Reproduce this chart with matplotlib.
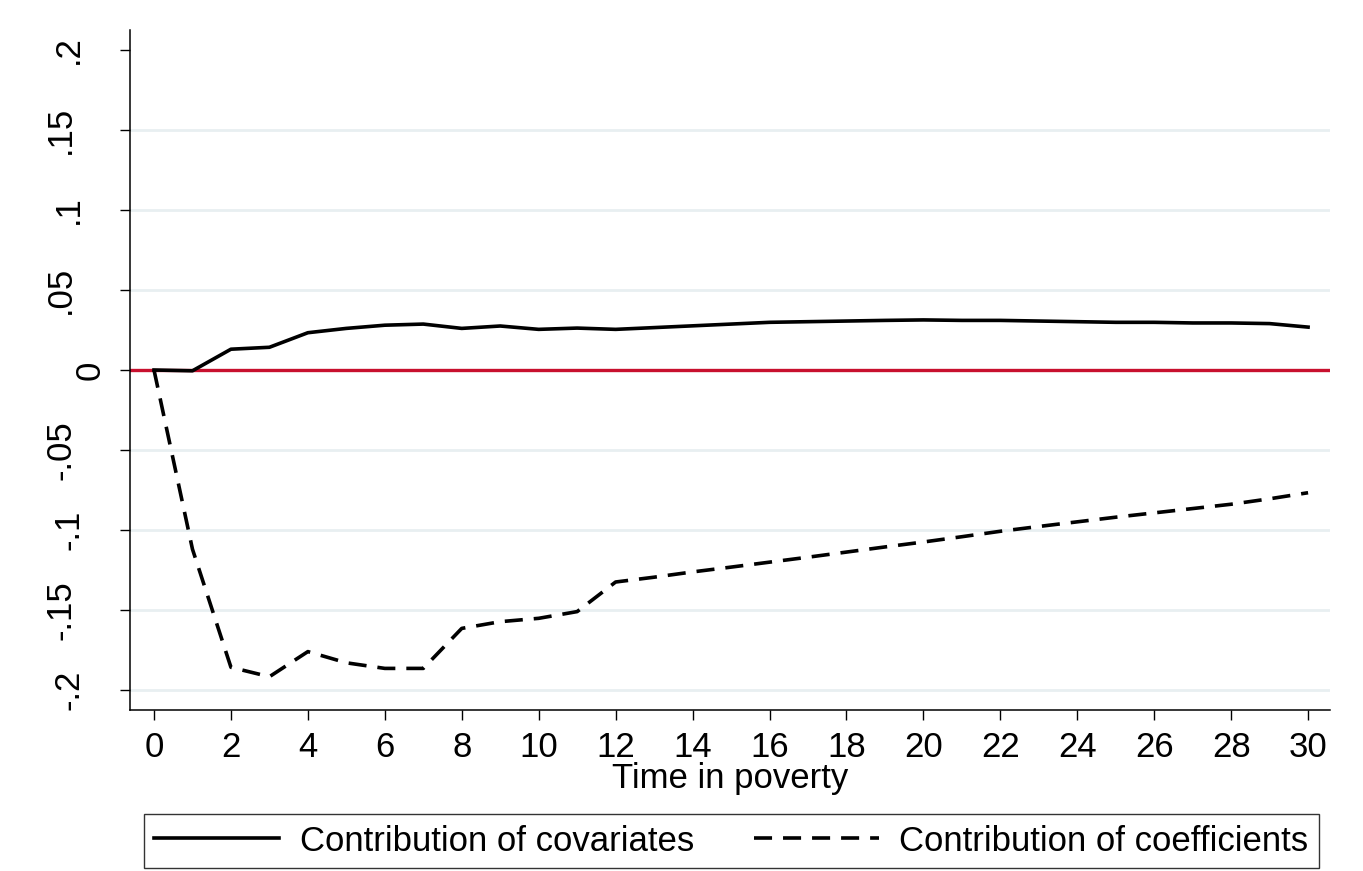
import matplotlib
matplotlib.use("Agg")
import matplotlib.pyplot as plt
from matplotlib.transforms import ScaledTranslation

plt.rcParams['font.family'] = ['Liberation Sans', 'DejaVu Sans']

# ---- data ----
time = list(range(0, 31))
covariates = [0.0, -0.0005, 0.013, 0.0142, 0.0233, 0.026, 0.028, 0.0287, 0.026, 0.0275,
              0.0254, 0.0262, 0.0254, 0.0265, 0.0276, 0.0287, 0.0298, 0.0302, 0.0306, 0.031,
              0.0313, 0.031, 0.031, 0.0306, 0.0302, 0.0298, 0.0298, 0.0294, 0.0294, 0.029,
              0.0268]
coefficients = [0.0, -0.112, -0.1858, -0.1917, -0.176, -0.183, -0.1865, -0.1865, -0.1615, -0.1573,
                -0.1552, -0.151, -0.1325, -0.1295, -0.1262, -0.1232, -0.1201, -0.117, -0.1138, -0.1106,
                -0.1075, -0.1042, -0.1008, -0.0978, -0.0949, -0.092, -0.0893, -0.0866, -0.0839, -0.0805,
                -0.0767]
xticks = list(range(0, 31, 2))
yticks = [-0.2, -0.15, -0.1, -0.05, 0, 0.05, 0.1, 0.15, 0.2]
ytick_labels = ['-.2', '-.15', '-.1', '-.05', '0', '.05', '.1', '.15', '.2']
grid_values = [-0.2, -0.15, -0.1, -0.05, 0.05, 0.1, 0.15]
labels = ['Contribution of covariates', 'Contribution of coefficients']
xlabel = 'Time in poverty'

W, H = 1363, 871
DPI = 100
fig = plt.figure(figsize=(W / DPI, H / DPI), dpi=DPI)
ax = fig.add_axes([130 / W, 1 - 710 / H, (1330 - 130) / W, (710 - 30) / H])

FS = 25
for g in grid_values:
    ax.axhline(g, color='#e8eff1', lw=2.0, zorder=0)
ax.axhline(0, color='#c8102e', lw=2.4, zorder=1)

lw = 2.6
l1, = ax.plot(time, covariates, color='black', lw=lw, zorder=3)
l2, = ax.plot(time, coefficients, color='black', lw=lw,
              linestyle=(0, (13 / lw, 7.9 / lw)), zorder=3)

ax.set_xlim(-0.624, 30.57)
ax.set_ylim(-0.2125, 0.2125)
ax.set_xticks(xticks)
ax.set_xticklabels([str(v) for v in xticks], fontsize=FS)
ax.set_yticks(yticks)
ax.set_yticklabels(ytick_labels, fontsize=FS, rotation=90, va='center')
ax.tick_params(axis='both', direction='out', length=7.5, width=1, color='black')
ax.tick_params(axis='x', pad=7.5)
ax.tick_params(axis='y', pad=9)
for s in ['top', 'right']:
    ax.spines[s].set_visible(False)
for s in ['left', 'bottom']:
    ax.spines[s].set_linewidth(1.1)
ax.set_xlabel(xlabel, fontsize=FS, labelpad=-1.5)

# Stata-like horizontal placement of rotated y labels (wider labels sit further left)
shift_px = {'0': 0, '.2': -22, '.1': -22, '-.1': -22, '-.2': -22,
            '.15': -30, '.05': -30, '-.05': -30, '-.15': -30}
for lab in ax.get_yticklabels():
    dx = shift_px.get(lab.get_text(), 0)
    lab.set_transform(lab.get_transform() + ScaledTranslation(dx / DPI, 0, fig.dpi_scale_trans))

leg = fig.legend([l1, l2], labels, ncol=2, mode='expand', loc='center',
                 bbox_to_anchor=(144 / W, 1 - 870 / H, (1319 - 144) / W, (870 - 812) / H),
                 fontsize=FS, frameon=True, fancybox=False, edgecolor='black',
                 borderpad=0.3, borderaxespad=0, handlelength=3.6, handletextpad=0.6,
                 columnspacing=1.0)
leg.get_frame().set_linewidth(1.0)

fig.savefig('out.png', dpi=DPI)
